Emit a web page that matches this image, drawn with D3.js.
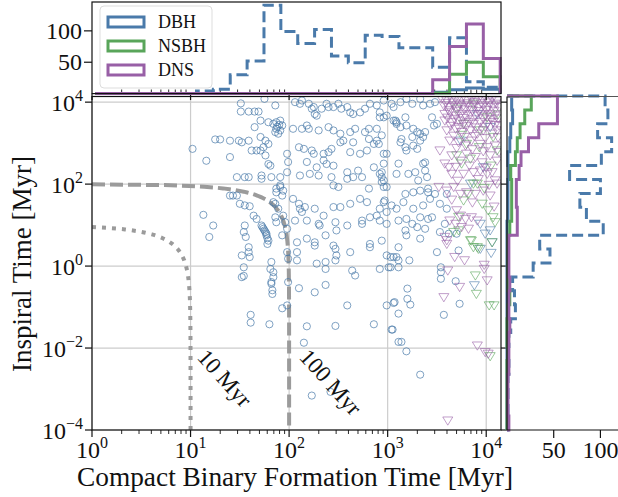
<!DOCTYPE html>
<html>
<head>
<meta charset="utf-8">
<title>Formation vs inspiral time</title>
<script src="https://d3js.org/d3.v7.min.js"></script>
<style>
  body { margin: 0; background: #fff; }
  text { font-family: "Liberation Serif", "DejaVu Serif", serif; fill: #111; }
</style>
</head>
<body>
<div id="chart"></div>
<script>
// values are log10(Myr): [formation time, inspiral time]
let dbhPoints = [
  [1.51,3.97],[1.51,3.77],[1.59,3.77],[1.65,3.77],[1.69,3.77],[1.75,4.08],[1.86,3.92],
  [1.71,3.55],[1.79,3.51],[1.84,3.47],[1.87,3.51],[1.91,3.55],[1.93,3.43],[1.87,3.35],[1.91,3.31],[1.86,3.27],[1.89,3.23],[1.88,3.40],[1.90,3.45],
  [1.65,3.39],[1.71,3.15],[1.76,3.06],[1.79,2.98],[1.74,2.90],
  [1.25,3.09],[1.30,3.09],[1.40,3.06],[1.49,3.06],[1.52,3.02],[1.59,3.06],[1.62,2.82],[1.67,2.82],[1.71,2.82],
  [1.02,2.86],[1.16,2.57],[1.40,2.66],
  [1.76,2.70],[1.79,2.49],[1.81,2.45],[1.72,2.21],[1.72,2.13],[1.82,2.17],[1.91,2.17],[1.91,1.97],[1.87,1.89],[1.94,1.84],[1.98,2.29],[1.98,2.74],[1.99,2.54],
  [1.47,2.17],[1.55,2.17],[1.59,2.17],
  [1.40,1.72],[1.43,1.72],[1.47,1.72],[1.50,1.52],[1.55,1.48],[1.60,1.46],[1.64,1.23],[1.67,1.15],[1.72,0.99],[1.74,0.91],[1.76,0.83],[1.77,0.75],[1.79,0.62],[1.78,0.54],[1.73,0.95],[1.75,0.87],[1.77,0.79],[1.78,0.68],
  [1.13,1.25],[1.23,0.99],[1.19,0.71],
  [1.55,0.99],[1.54,0.83],[1.56,0.71],
  [1.52,0.26],[1.59,0.34],[1.60,0.22],[1.59,0.46],
  [1.52,-0.27],[1.54,-0.03],[1.82,0.10],[1.81,-0.07],[1.84,-0.15],[1.84,-0.27],[1.82,-0.39],
  [1.84,1.56],[1.86,1.52],[1.87,1.80],[1.91,1.93],[1.93,1.72],[1.89,1.40],[1.86,1.19],[1.87,1.07],[1.94,1.23],[1.96,1.07],[1.98,0.91],[1.93,0.75],
  [2.06,4.00],[2.11,3.96],[2.13,4.04],[2.20,3.96],[2.23,3.84],[2.25,3.88],[2.26,3.71],[2.28,3.67],[2.33,3.84],[2.38,3.96],[2.40,3.88],[2.45,3.88],[2.50,3.96],[2.53,3.84],[2.59,3.88],[2.62,3.75],[2.65,3.71],[2.72,3.75],[2.77,3.84],[2.82,3.96],[2.89,3.92],[2.92,3.75],[2.96,3.63],[3.06,3.55],[3.09,3.51],
  [2.04,3.35],[2.13,3.35],[2.20,3.35],[2.18,3.43],[2.30,3.31],[2.40,3.39],[2.45,3.31],[2.52,3.23],[2.62,3.27],[2.67,3.35],[2.77,3.27],[2.81,3.35],[2.89,3.35],[2.94,3.19],[2.89,3.06],[2.86,2.98],[2.79,2.82],[2.96,2.74],
  [2.10,2.90],[2.15,2.86],[2.23,2.82],[2.25,2.74],[2.35,2.74],[2.40,2.78],[2.43,2.86],[2.52,3.02],[2.55,3.06],[2.62,2.78],[2.65,3.02],[2.72,2.74],[2.81,3.10],[2.91,2.98],
  [2.18,2.54],[2.28,2.41],[2.35,2.58],[2.38,2.49],[2.45,2.45],[2.59,2.29],[2.70,2.33],[2.74,2.17],[2.86,2.41],[2.92,2.25],[2.94,2.17],[2.94,2.05],[2.96,1.93],
  [2.11,2.21],[2.21,2.25],[2.30,2.21],[2.43,2.17],[2.45,1.97],[2.50,1.93],[2.65,2.17],[2.59,2.13],
  [2.04,1.64],[2.10,1.52],[2.11,1.40],[2.13,1.32],[2.16,1.44],[2.26,1.40],[2.35,1.23],[2.45,1.44],[2.52,1.44],[2.62,1.52],[2.72,1.64],[2.81,1.89],[2.79,1.56],[2.82,1.19],[2.89,1.23],[2.92,1.40],[2.96,1.56],[3.04,1.48],
  [2.06,1.11],[2.18,1.11],[2.30,1.03],[2.31,0.99],[2.47,1.07],[2.48,0.87],[2.59,0.99],[2.74,1.11],[2.74,1.03],[2.92,1.11],[2.99,1.03],
  [2.08,0.58],[2.18,0.67],[2.26,0.58],[2.26,0.50],[2.37,0.75],[2.45,0.50],[2.47,0.42],[2.48,0.26],[2.62,0.34],[2.82,0.54],[2.82,0.46],[2.94,0.62],[2.99,0.26],[3.03,0.22],
  [1.98,0.34],[1.99,0.18],[2.08,0.14],[2.08,0.34],[2.28,0.06],[2.37,0.10],[2.47,0.14],[2.37,-0.07],[2.64,-0.11],[2.92,-0.07],[3.01,-0.03],
  [1.83,-0.59],[1.83,-0.68],[1.82,-0.43],[1.93,-1.03],[1.98,-0.96],[1.99,-0.39],[2.10,-0.54],[2.18,-1.47],[2.15,-1.87],[2.26,-0.64],[2.37,-0.46],[2.23,-3.16],[2.42,-3.07],[2.47,-1.46],[2.59,-0.96],[2.67,-0.23],[3.06,-0.90],[2.99,-0.96],[3.11,-1.16],[3.05,-1.55],[3.11,-1.85],[1.61,-1.19],[1.61,-1.38],[1.80,-1.42],[2.86,-1.42],[1.54,-0.24],
  [3.11,0.46],[3.06,0.22],[3.09,0.22],[3.11,0.14],[3.11,-0.03],[3.22,0.14],[3.03,-0.03],[3.50,0.34],[3.72,0.38],[3.54,-0.03],[3.54,-0.15],[3.54,-0.31],[3.69,-0.37],[3.20,-0.55],[3.20,-0.80],[3.23,-0.94],[3.07,-0.88],[3.57,-1.19],[3.73,-0.92],[3.04,-1.55],[3.14,-1.85],[3.19,-2.08],[3.33,-2.65],
  [2.96,4.04],[3.04,3.96],[3.06,3.88],[3.13,4.00],[3.19,4.08],[3.25,3.96],[3.33,4.08],[3.36,3.92],[3.43,3.96],[3.48,4.00],[2.92,3.63],[2.99,3.67],[3.08,3.55],[3.09,3.47],[3.13,3.39],[3.18,3.63],[3.19,3.43],[3.26,3.35],[3.30,3.27],[3.33,3.23],[3.25,3.15],[3.14,3.10],[3.13,3.02],[3.18,2.90],[3.19,2.82],[3.26,2.94],[3.30,2.86],[3.33,3.06],[3.36,3.15],[3.38,3.27],[3.47,3.43],[3.50,3.47],[3.45,3.63],
  [2.99,2.74],[2.96,2.50],[2.94,2.29],[3.11,2.50],[3.09,2.25],[3.21,2.25],[3.28,2.29],[3.31,2.09],[3.36,2.50],[3.38,2.53],[3.38,2.33],[3.40,2.17],[3.41,1.89],[3.41,1.80],[3.33,1.84],[3.26,1.80],[3.18,1.76],[3.16,1.56],[3.09,1.40],[2.99,1.32],[2.97,1.60],[2.99,1.93],[2.96,2.09],
  [3.26,1.40],[3.36,1.48],[3.43,1.64],[3.48,1.76],[3.53,1.52],[3.60,1.76],[3.60,1.40],[3.11,1.11],[3.19,1.15],[3.25,1.03],[3.30,0.95],[3.33,1.19],[3.41,1.15],[3.45,1.19],[3.18,0.87],[3.19,0.75],[3.33,0.67],[3.38,0.91],[3.53,0.83],[3.58,1.03],[3.62,0.79],[3.70,0.79]
];

let dnsTriangles = [
  [3.55,4.08],[3.60,4.04],[3.65,4.08],[3.70,4.04],[3.75,4.08],[3.80,4.04],[3.85,4.08],[3.91,4.04],[3.96,4.08],[4.01,4.04],[4.06,4.08],[4.11,4.04],
  [3.57,3.92],[3.62,3.88],[3.67,3.92],[3.72,3.88],[3.77,3.92],[3.82,3.88],[3.87,3.92],[3.92,3.88],[3.97,3.92],[4.02,3.88],[4.07,3.92],[4.13,3.88],
  [3.58,3.71],[3.63,3.75],[3.69,3.67],[3.74,3.71],[3.79,3.67],[3.84,3.71],[3.89,3.67],[3.94,3.71],[3.99,3.67],[4.04,3.71],[4.09,3.67],
  [3.58,3.55],[3.65,3.51],[3.72,3.55],[3.77,3.47],[3.82,3.51],[3.87,3.47],[3.94,3.51],[4.01,3.47],[4.07,3.51],[4.13,3.43],
  [3.60,3.31],[3.69,3.35],[3.75,3.27],[3.84,3.31],[3.91,3.23],[3.97,3.31],[4.06,3.23],[4.11,3.31],
  [3.53,2.82],[3.63,3.06],[3.72,3.02],[3.79,2.94],[3.85,3.06],[3.94,2.98],[4.01,2.90],[4.09,2.94],
  [3.58,2.50],[3.65,2.70],[3.74,2.57],[3.80,2.74],[3.89,2.66],[3.96,2.53],[4.04,2.70],[4.11,2.57],
  [3.62,2.41],[3.65,2.25],[3.77,2.25],[3.87,2.29],[3.94,2.33],[4.01,2.25],[4.06,2.29],[4.09,2.09],
  [3.52,1.93],[3.60,1.84],[3.67,1.93],[3.74,1.76],[3.80,1.80],[3.89,1.76],[3.97,1.84],[4.04,1.72],[4.11,2.01],
  [3.70,1.36],[3.74,1.23],[3.79,1.15],[3.85,1.19],[3.91,1.11],[3.63,1.11],[3.69,1.03],[3.75,0.95],[3.82,0.91],
  [3.58,0.71],[3.60,0.63],[3.60,0.54],[3.68,0.22],[3.78,0.14],[3.61,-0.11],[3.73,-0.51],[3.57,-0.76],[3.98,0.03],[3.98,-0.07],[4.01,-0.35],
  [3.91,-1.94],[3.99,-2.10],[4.02,-2.14],[3.61,-3.77],
  [3.59,3.98],[3.66,3.99],[3.73,3.96],[3.81,3.97],[3.88,4.00],[3.95,3.97],[4.03,3.99],[4.10,3.96],
  [3.62,3.80],[3.70,3.79],[3.78,3.82],[3.86,3.80],[3.93,3.78],[4.00,3.81],[4.08,3.79],
  [3.61,3.62],[3.68,3.59],[3.76,3.61],[3.86,3.58],[3.97,3.60],[4.05,3.58],[4.12,3.60],
  [3.64,3.42],[3.72,3.39],[3.80,3.41],[3.90,3.38],[3.99,3.40],[4.09,3.44],
  [3.67,3.18],[3.78,3.15],[3.88,3.17],[3.99,3.12],[4.12,3.14],
  [3.70,2.88],[3.86,2.85],[3.97,2.80],[4.13,2.78],[3.69,2.42],[3.83,2.45],[4.00,2.40],
  [3.71,2.08],[3.92,2.12],[4.03,1.98],[3.65,1.62],[3.86,1.55],[4.08,1.45]
];

let nsbhTriangles = [
  [3.70,2.70],[3.75,2.50],[3.84,2.62],[3.87,2.01],[3.91,2.01],[3.77,1.60],[3.82,1.76],[3.96,1.52],[4.02,1.36],
  [3.67,0.83],[3.72,0.87],[3.85,0.62],[3.91,0.46],[4.06,0.58],[4.09,1.07],[4.07,1.19],
  [3.77,3.47],[3.94,3.31],[4.01,3.63],[3.87,3.96],[3.70,3.84],[4.07,3.15],[4.11,2.82],[3.80,2.98],
  [3.87,0.46],[3.92,0.42],[3.89,-0.23],[3.90,-0.68],[4.03,-0.96],[4.08,-0.96],[4.04,-2.20],[3.84,0.63],
  [3.75,3.20],[3.93,2.90],[4.05,2.45],[3.98,1.90],[3.72,1.20],[4.12,3.70]
];

let dbhTriangles = [
  [4.04,0.87],[3.99,0.79],[3.94,1.03],[3.97,2.41],[3.74,3.06],[3.91,3.71],[4.04,3.39],[3.84,2.01],
  [4.06,0.58],[4.05,0.32],[3.88,-0.47],[3.94,0.42]
];

// histogram of formation time (log10 bins)
let topBinStart = 0.033, topBinWidth = 0.1712;
let dbhTopCounts    = [0,0,0,0,0,0,4,7,30,52,141,99,80,102,60,49,93,91,73,73,42,89,19,10];
let dbhTriTopCounts = [0,0,0,0,0,0,0,0,0,0,0,0,0,0,0,0,0,0,0,0,2,6,9,7];
let nsbhTopCounts   = [0,0,0,0,0,0,0,0,0,0,0,0,0,0,0,0,0,0,0,0,1,31,50,27];
let dnsTopCounts    = [0,0,0,0,0,0,0,0,0,0,0,0,0,0,0,0,0,0,0,0,22,75,111,56];

// histogram of inspiral time (log10 bins, bottom to top)
let rightBinStart = -4, rightBinWidth = 0.3396;
let dbhRightCounts    = [1,1,1,1,2,1,2,4,9,8,6,28,46,35,103,85,78,100,67,101,112,97,108,105];
let dbhTriRightCounts = [0,0,0,0,0,0,0,0,0,0,0,0,0,0,0,1,1,1,2,1,3,4,6,5];
let nsbhRightCounts   = [0,0,0,0,0,1,0,0,1,3,1,1,1,1,3,5,5,5,4,9,11,14,19,26];
let dnsRightCounts    = [2,1,1,1,2,2,2,3,2,2,3,2,2,2,11,11,10,10,13,15,23,34,54,54];

let isochrones = [10, 100];
let xTickExp = [0, 1, 2, 3, 4];
let yTickExp = [-4, -2, 0, 2, 4];
let countTicks = [50, 100];
let seriesNames = ["DBH", "NSBH", "DNS"];
let colors = {DBH: "#4a7aaa", NSBH: "#59a55a", DNS: "#985fa6"};

let W = 618, H = 497;
let svg = d3.select("#chart").append("svg")
    .attr("width", W).attr("height", H)
    .style("display", "block");

let x = d3.scaleLog().domain([1, Math.pow(10, 4.15)]).range([92, 501]);
let y = d3.scaleLog().domain([1e-4, Math.pow(10, 4.15)]).range([430, 96]);
let topY = d3.scaleLinear().domain([0, 146]).range([93.6, 2]);
let rightX = d3.scaleLinear().domain([0, 146]).range([507, 643.4]);

let p10 = function(v){ return Math.pow(10, v); };

// clip for the main panel
svg.append("clipPath").attr("id", "mainclip")
  .append("rect").attr("x", 92).attr("y", 96).attr("width", 409).attr("height", 334);

// grid
let grid = svg.append("g");
xTickExp.forEach(function(e){
  grid.append("line").attr("x1", x(p10(e))).attr("x2", x(p10(e)))
    .attr("y1", 96).attr("y2", 430).attr("stroke", "#cccccc").attr("stroke-width", 1.2);
});
yTickExp.forEach(function(e){
  grid.append("line").attr("y1", y(p10(e))).attr("y2", y(p10(e)))
    .attr("x1", 92).attr("x2", 501).attr("stroke", "#cccccc").attr("stroke-width", 1.2);
});

let main = svg.append("g").attr("clip-path", "url(#mainclip)");

// isochrone curves t_form + t_insp = T
let curveLine = d3.line().x(function(d){ return x(d[0]); }).y(function(d){ return y(d[1]); });
isochrones.forEach(function(T){
  let pts = [[1, T - 1]];
  d3.range(Math.log10(T - 1), -5, -0.02).forEach(function(l){
    pts.push([T - p10(l), p10(l)]);
  });
  main.append("path").datum(pts).attr("d", curveLine)
    .attr("fill", "none").attr("stroke", "#9b9b9b").attr("stroke-width", 4)
    .attr("stroke-dasharray", T === 100 ? "13,5" : "4,6");
});

// scatter
main.selectAll("circle.dbh").data(dbhPoints).enter().append("circle")
  .attr("cx", function(d){ return x(p10(d[0])); })
  .attr("cy", function(d){ return y(p10(d[1])); })
  .attr("r", 3.6)
  .attr("fill", "none").attr("stroke", colors.DBH)
  .attr("stroke-opacity", 0.7).attr("stroke-width", 1);

let tri = "M-5,-3.6L5,-3.6L0,4.6Z";
function drawTriangles(data, col){
  main.append("g").selectAll("path").data(data).enter().append("path")
    .attr("d", tri)
    .attr("transform", function(d){ return "translate(" + x(p10(d[0])) + "," + y(p10(d[1])) + ")"; })
    .attr("fill", "none").attr("stroke", col)
    .attr("stroke-opacity", 0.6).attr("stroke-width", 1);
}
drawTriangles(dbhTriangles, colors.DBH);
drawTriangles(nsbhTriangles, colors.NSBH);
drawTriangles(dnsTriangles, colors.DNS);

// curve labels
[["10 Myr", 225, 378], ["100 Myr", 331, 382]].forEach(function(l){
  svg.append("text").attr("transform", "translate(" + l[1] + "," + l[2] + ") rotate(48)")
    .attr("text-anchor", "middle").attr("dy", "0.35em")
    .attr("font-size", 23).text(l[0]);
});

// main frame
svg.append("rect").attr("x", 92).attr("y", 96.5).attr("width", 409).attr("height", 333.5)
  .attr("fill", "none").attr("stroke", "#111").attr("stroke-width", 1.2);

// main x ticks
let axes = svg.append("g").attr("stroke", "#111").attr("stroke-width", 1.2);
xTickExp.forEach(function(e){
  axes.append("line").attr("x1", x(p10(e))).attr("x2", x(p10(e))).attr("y1", 430).attr("y2", 437);
  if (e < 4) {
    d3.range(2, 10).forEach(function(m){
      let v = m * p10(e);
      if (v < Math.pow(10, 4.15)) {
        axes.append("line").attr("x1", x(v)).attr("x2", x(v)).attr("y1", 430).attr("y2", 434)
          .attr("stroke-width", 0.9);
        axes.append("line").attr("x1", x(v)).attr("x2", x(v)).attr("y1", 89.5).attr("y2", 93.6)
          .attr("stroke-width", 0.9);
      }
    });
  }
  axes.append("line").attr("x1", x(p10(e))).attr("x2", x(p10(e))).attr("y1", 93.6).attr("y2", 100);
});
yTickExp.forEach(function(e){
  axes.append("line").attr("x1", 85).attr("x2", 92).attr("y1", y(p10(e))).attr("y2", y(p10(e)));
  axes.append("line").attr("x1", 501).attr("x2", 507).attr("y1", y(p10(e))).attr("y2", y(p10(e)));
});

function powerLabel(sel, e){
  sel.append("tspan").text("10");
  sel.append("tspan").attr("dy", -10).attr("font-size", 16).text(e < 0 ? "\u2212" + (-e) : e);
}
xTickExp.forEach(function(e){
  let t = svg.append("text").attr("x", x(p10(e))).attr("y", 458)
    .attr("text-anchor", "middle").attr("font-size", 24);
  powerLabel(t, e);
});
yTickExp.forEach(function(e){
  let t = svg.append("text").attr("x", 83).attr("y", y(p10(e)) + 9)
    .attr("text-anchor", "end").attr("font-size", 24);
  powerLabel(t, e);
});

// axis titles
svg.append("text").attr("x", 295).attr("y", 486).attr("text-anchor", "middle")
  .attr("font-size", 27).attr("textLength", 436).attr("lengthAdjust", "spacingAndGlyphs")
  .text("Compact Binary Formation Time [Myr]");
svg.append("text").attr("transform", "translate(31,264) rotate(-90)").attr("text-anchor", "middle")
  .attr("font-size", 27).attr("textLength", 216).attr("lengthAdjust", "spacingAndGlyphs")
  .text("Inspiral Time [Myr]");

// histograms
function stepPoints(edges, counts){
  let pts = [[edges[0], 0]];
  counts.forEach(function(c, i){ pts.push([edges[i], c]); pts.push([edges[i + 1], c]); });
  pts.push([edges[edges.length - 1], 0]);
  return pts;
}
let topEdges = d3.range(25).map(function(i){ return p10(topBinStart + i * topBinWidth); });
let rightEdges = d3.range(25).map(function(i){ return p10(rightBinStart + i * rightBinWidth); });

let topLine = d3.line().x(function(d){ return x(d[0]); }).y(function(d){ return topY(d[1]); });
let rightLine = d3.line().x(function(d){ return rightX(d[1]); }).y(function(d){ return y(d[0]); });

let topHist = [
  [dbhTopCounts, colors.DBH, "11,5"],
  [dbhTriTopCounts, colors.DBH, null],
  [nsbhTopCounts, colors.NSBH, null],
  [dnsTopCounts, colors.DNS, null]
];
let rightHist = [
  [dbhRightCounts, colors.DBH, "11,5"],
  [dbhTriRightCounts, colors.DBH, null],
  [nsbhRightCounts, colors.NSBH, null],
  [dnsRightCounts, colors.DNS, null]
];
topHist.forEach(function(h){
  svg.append("path").datum(stepPoints(topEdges, h[0])).attr("d", topLine)
    .attr("fill", "none").attr("stroke", h[1]).attr("stroke-width", 3)
    .attr("stroke-dasharray", h[2]);
});
rightHist.forEach(function(h){
  svg.append("path").datum(stepPoints(rightEdges, h[0])).attr("d", rightLine)
    .attr("fill", "none").attr("stroke", h[1]).attr("stroke-width", 3)
    .attr("stroke-dasharray", h[2]);
});

// top histogram frame and ticks
svg.append("rect").attr("x", 92).attr("y", 2).attr("width", 409).attr("height", 91.6)
  .attr("fill", "none").attr("stroke", "#111").attr("stroke-width", 1.2);
countTicks.forEach(function(c){
  svg.append("line").attr("x1", 84).attr("x2", 92).attr("y1", topY(c)).attr("y2", topY(c))
    .attr("stroke", "#111").attr("stroke-width", 1.2);
  svg.append("text").attr("x", 82).attr("y", topY(c) + 8).attr("text-anchor", "end")
    .attr("font-size", 24).text(c);
});

// right histogram frame and ticks
svg.append("line").attr("x1", 507).attr("x2", 507).attr("y1", 96.5).attr("y2", 430)
  .attr("stroke", "#111").attr("stroke-width", 1.2);
svg.append("line").attr("x1", 507).attr("x2", W).attr("y1", 430).attr("y2", 430)
  .attr("stroke", "#111").attr("stroke-width", 1.2);
svg.append("line").attr("x1", 507).attr("x2", W).attr("y1", 96.5).attr("y2", 96.5)
  .attr("stroke", "#555").attr("stroke-width", 1.2);
countTicks.forEach(function(c){
  svg.append("line").attr("x1", rightX(c)).attr("x2", rightX(c)).attr("y1", 430).attr("y2", 438)
    .attr("stroke", "#111").attr("stroke-width", 1.2);
  svg.append("text").attr("x", rightX(c)).attr("y", 458).attr("text-anchor", "middle")
    .attr("font-size", 24).text(c);
});

// legend
let legend = svg.append("g");
legend.append("rect").attr("x", 100).attr("y", 6).attr("width", 112).attr("height", 82)
  .attr("rx", 4).attr("fill", "#fff").attr("fill-opacity", 0.85)
  .attr("stroke", "#dddddd").attr("stroke-width", 1);
seriesNames.forEach(function(name, i){
  let yy = 17 + i * 24;
  legend.append("rect").attr("x", 108).attr("y", yy).attr("width", 36).attr("height", 10)
    .attr("fill", "#fff").attr("stroke", colors[name]).attr("stroke-width", 3);
  legend.append("text").attr("x", 158).attr("y", yy + 10.5).attr("font-size", 18).text(name);
});
</script>
</body>
</html>
